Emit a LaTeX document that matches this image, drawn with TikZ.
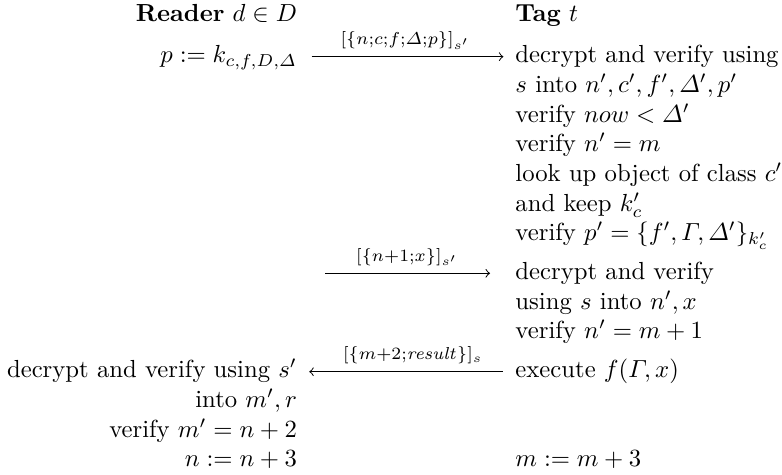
\documentclass[tikz,border=0pt]{standalone}
\usepackage{amsmath}
\tikzset{
  lcol/.style={anchor=base east, inner sep=0pt},
  rcol/.style={anchor=base west, inner sep=0pt},
  msg/.style={line width=0.4pt, draw=black},
  lbl/.style={anchor=base west, inner sep=0pt},
}
\begin{document}
\begin{tikzpicture}[x=1pt,y=1pt]
\useasboundingbox (0,0) rectangle (316.6,-192.3);
% headers
\node[lcol] (reader) at (120.4,-8.8) {\textbf{Reader} $d\in D$};
\node[rcol] (tag) at (208.5,-8.8) {\textbf{Tag} $t$};
% left column
\node[lcol] (pdef) at (120.4,-25.45) {$p:=k_{c,f,D,\varDelta}$};
\node[lcol] (rdec) at (120.4,-153.0) {decrypt and verify using $s'$};
\node[lcol] (rinto) at (120.4,-165.0) {into $m',r$};
\node[lcol] (rver) at (120.4,-177.0) {verify $m'=n+2$};
\node[lcol] (rinc) at (120.4,-189.0) {$n:=n+3$};
% right column, block 1
\node[rcol] (t1) at (208.5,-25.45) {decrypt and verify using};
\node[rcol] (t2) at (208.5,-37.45) {$s$ into $n',c',f',\varDelta',p'$};
\node[rcol] (t3) at (208.5,-49.45) {verify $now<\varDelta'$};
\node[rcol] (t4) at (208.5,-61.45) {verify $n'=m$};
\node[rcol] (t5) at (208.5,-73.45) {look up object of class $c'$};
\node[rcol] (t6) at (208.5,-85.45) {and keep $k'_c$};
\node[rcol] (t7) at (208.5,-97.45) {verify $p'=\{f',\varGamma,\varDelta'\}_{k'_c}$};
% right column, block 2
\node[rcol] (u1) at (208.5,-113.15) {decrypt and verify};
\node[rcol] (u2) at (208.5,-125.15) {using $s$ into $n',x$};
\node[rcol] (u3) at (208.5,-137.15) {verify $n'=m+1$};
% right column, block 3
\node[rcol] (v1) at (208.5,-153.0) {execute $f(\varGamma,x)$};
\node[rcol] (v2) at (208.5,-189.0) {$m:=m+3$};
% message arrows
\coordinate (m1s) at (126.2,-22.95);
\coordinate (m1e) at (203.8,-22.95);
\coordinate (m2s) at (131.6,-110.65);
\coordinate (m2e) at (198.4,-110.65);
\coordinate (m3s) at (203.6,-150.5);
\coordinate (m3e) at (125.2,-150.5);
\draw[msg,->] (m1s) -- (m1e);
\draw[msg,->] (m2s) -- (m2e);
\draw[msg,->] (m3s) -- (m3e);
\node[lbl] (l1) at (137.7,-18.1) {$\scriptstyle[\{n;c;f;\varDelta;p\}]_{s'}$};
\node[lbl] (l2) at (144.0,-105.8) {$\scriptstyle[\{n+1;x\}]_{s'}$};
\node[lbl] (l3) at (138.7,-145.65) {$\scriptstyle[\{m+2;\mathit{result}\}]_{s}$};
\end{tikzpicture}
\end{document}
